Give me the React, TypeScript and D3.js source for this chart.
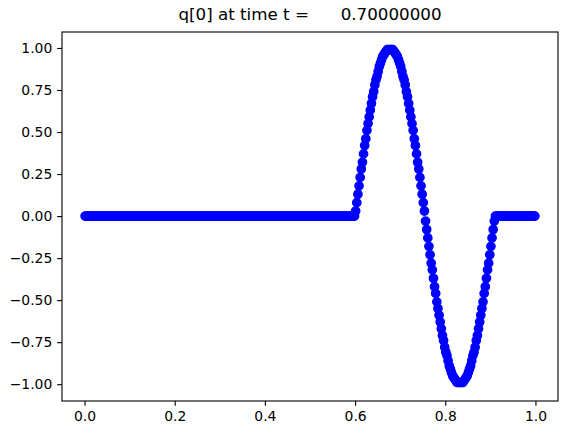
import { useEffect, useRef } from "react";
import * as d3 from "d3";

// q[0] on a uniform grid of 400 cells over [0, 1]
const CELLS = 400;

const LEADING_ZEROS = [
  0, 0, 0, 0, 0, 0, 0, 0, 0, 0, 0, 0, 0, 0, 0, 0, 0, 0, 0, 0,
  0, 0, 0, 0, 0, 0, 0, 0, 0, 0, 0, 0, 0, 0, 0, 0, 0, 0, 0, 0,
  0, 0, 0, 0, 0, 0, 0, 0, 0, 0, 0, 0, 0, 0, 0, 0, 0, 0, 0, 0,
  0, 0, 0, 0, 0, 0, 0, 0, 0, 0, 0, 0, 0, 0, 0, 0, 0, 0, 0, 0,
  0, 0, 0, 0, 0, 0, 0, 0, 0, 0, 0, 0, 0, 0, 0, 0, 0, 0, 0, 0,
  0, 0, 0, 0, 0, 0, 0, 0, 0, 0, 0, 0, 0, 0, 0, 0, 0, 0, 0, 0,
  0, 0, 0, 0, 0, 0, 0, 0, 0, 0, 0, 0, 0, 0, 0, 0, 0, 0, 0, 0,
  0, 0, 0, 0, 0, 0, 0, 0, 0, 0, 0, 0, 0, 0, 0, 0, 0, 0, 0, 0,
  0, 0, 0, 0, 0, 0, 0, 0, 0, 0, 0, 0, 0, 0, 0, 0, 0, 0, 0, 0,
  0, 0, 0, 0, 0, 0, 0, 0, 0, 0, 0, 0, 0, 0, 0, 0, 0, 0, 0, 0,
  0, 0, 0, 0, 0, 0, 0, 0, 0, 0, 0, 0, 0, 0, 0, 0, 0, 0, 0, 0,
  0, 0, 0, 0, 0, 0, 0, 0, 0, 0, 0, 0, 0, 0, 0, 0, 0, 0, 0, 0,
];

const WAVE_CREST = [
  0.03, 0.08, 0.13, 0.18, 0.23, 0.28, 0.32, 0.37, 0.42, 0.46,
  0.51, 0.55, 0.59, 0.63, 0.67, 0.71, 0.74, 0.78, 0.81, 0.83,
  0.86, 0.89, 0.91, 0.93, 0.95, 0.96, 0.97, 0.98, 0.99, 0.99,
  0.99, 0.99, 0.99, 0.99, 0.98, 0.97, 0.96, 0.95, 0.93, 0.91,
  0.89, 0.86, 0.83, 0.81, 0.78, 0.74, 0.71, 0.67, 0.63, 0.59,
  0.55, 0.51, 0.46, 0.42, 0.37, 0.32, 0.28, 0.23, 0.18, 0.13,
  0.08, 0.03,
];

const WAVE_TROUGH = [
  -0.03, -0.08, -0.13, -0.18, -0.23, -0.28, -0.32, -0.37, -0.42, -0.46,
  -0.51, -0.55, -0.59, -0.63, -0.67, -0.71, -0.74, -0.78, -0.81, -0.83,
  -0.86, -0.89, -0.91, -0.93, -0.95, -0.96, -0.97, -0.98, -0.99, -0.99,
  -0.99, -0.99, -0.99, -0.99, -0.98, -0.97, -0.96, -0.95, -0.93, -0.91,
  -0.89, -0.86, -0.83, -0.81, -0.78, -0.74, -0.71, -0.67, -0.63, -0.59,
  -0.55, -0.51, -0.46, -0.42, -0.37, -0.32, -0.28, -0.23, -0.18, -0.13,
  -0.08, -0.03,
];

const TRAILING_ZEROS = [
  0, 0, 0, 0, 0, 0, 0, 0, 0, 0, 0, 0, 0, 0, 0, 0, 0, 0,
  0, 0, 0, 0, 0, 0, 0, 0, 0, 0, 0, 0, 0, 0, 0, 0, 0, 0,
];

const X_TICKS = [0, 0.2, 0.4, 0.6, 0.8, 1.0];
const Y_TICKS = [-1, -0.75, -0.5, -0.25, 0, 0.25, 0.5, 0.75, 1];
const TITLE = "q[0] at time t =      0.70000000";

export default function App() {
  const ref = useRef<HTMLDivElement>(null);

  useEffect(() => {
    if (!ref.current) return;
    const container = ref.current;
    d3.select(container).select("svg").remove();

    const width = 568;
    const height = 435;
    const marginLeft = 62;
    const marginRight = 10;
    const marginTop = 32;
    const marginBottom = 34;

    const q = [...LEADING_ZEROS, ...WAVE_CREST, ...WAVE_TROUGH, ...TRAILING_ZEROS];
    const points = q.map((v, i) => ({ x: (i + 0.5) / CELLS, y: v }));

    const x = d3.scaleLinear()
      .domain([-0.05, 1.05])
      .range([marginLeft, width - marginRight]);

    const y = d3.scaleLinear()
      .domain([-1.1, 1.095])
      .range([height - marginBottom, marginTop]);

    const svg = d3.create("svg")
      .attr("width", width)
      .attr("height", height)
      .attr("viewBox", [0, 0, width, height])
      .attr("style", "position:absolute; left:0; top:0; background:#fff; font-family:'DejaVu Sans', sans-serif;");

    svg.append("g")
      .attr("fill", "#0000ff")
      .attr("stroke", "#0000ff")
      .attr("stroke-width", 1.39)
      .selectAll("circle")
      .data(points)
      .join("circle")
        .attr("cx", d => x(d.x))
        .attr("cy", d => y(d.y))
        .attr("r", 4.17);

    const tickLen = 4.86;

    svg.append("g")
      .attr("transform", `translate(0,${height - marginBottom})`)
      .call(d3.axisBottom(x).tickValues(X_TICKS).tickFormat(d3.format(".1f")).tickSizeOuter(0).tickSize(tickLen).tickPadding(4.86))
      .call(g => g.select(".domain").remove())
      .call(g => g.selectAll(".tick line").attr("stroke", "#000").attr("stroke-width", 1.11))
      .call(g => g.selectAll(".tick text")
        .attr("fill", "#000")
        .attr("font-size", 13.9)
        .attr("font-family", "'DejaVu Sans', sans-serif")
        .attr("dy", "0.76em"));

    svg.append("g")
      .attr("transform", `translate(${marginLeft},0)`)
      .call(d3.axisLeft(y).tickValues(Y_TICKS).tickFormat(d3.format(".2f")).tickSizeOuter(0).tickSize(tickLen).tickPadding(4.86))
      .call(g => g.select(".domain").remove())
      .call(g => g.selectAll(".tick line").attr("stroke", "#000").attr("stroke-width", 1.11))
      .call(g => g.selectAll(".tick text")
        .attr("fill", "#000")
        .attr("font-size", 13.9)
        .attr("font-family", "'DejaVu Sans', sans-serif"));

    svg.append("rect")
      .attr("x", marginLeft)
      .attr("y", marginTop)
      .attr("width", width - marginLeft - marginRight)
      .attr("height", height - marginTop - marginBottom)
      .attr("fill", "none")
      .attr("stroke", "#000")
      .attr("stroke-width", 1.11);

    svg.append("text")
      .attr("x", (marginLeft + width - marginRight) / 2)
      .attr("y", 20)
      .attr("text-anchor", "middle")
      .attr("font-size", 16.7)
      .attr("fill", "#000")
      .attr("style", "white-space: pre")
      .text(TITLE);

    container.append(svg.node()!);
  }, []);

  return <div ref={ref} />;
}
